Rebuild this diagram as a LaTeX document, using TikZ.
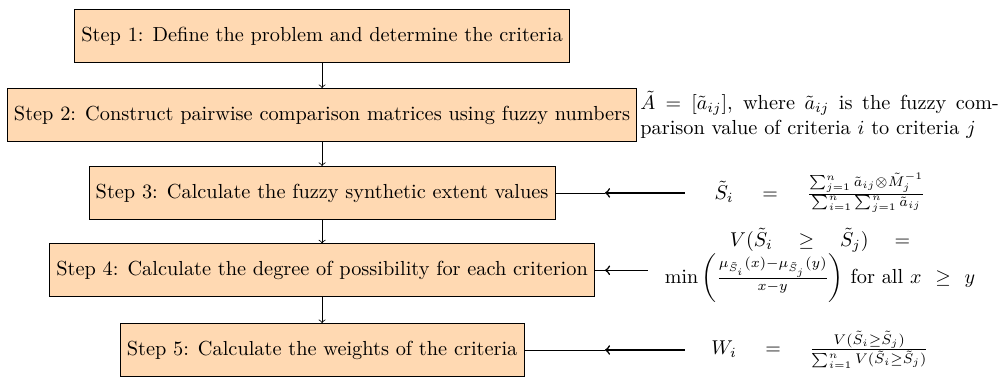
\documentclass[tikz,border=0pt]{standalone}
\usepackage{amsmath,amssymb}
\usetikzlibrary{positioning}
\begin{document}
\begin{tikzpicture}[scale=1,font=\fontsize{10.17}{12.2}\selectfont,
stepbox/.style={draw,rectangle,fill=orange!30,minimum height=0.93cm},
formula/.style={align=center,inner sep=3.33pt}]
\useasboundingbox (0,0) rectangle (17.59,-6.61);

\draw (5.66,-0.63) node[stepbox] (s1) {Step 1: Define the problem and determine the criteria};
\draw (5.66,-2.02) node[stepbox] (s2) {Step 2: Construct pairwise comparison matrices using fuzzy numbers};
\draw (5.66,-3.39) node[stepbox] (s3) {Step 3: Calculate the fuzzy synthetic extent values};
\draw (5.66,-4.75) node[stepbox] (s4) {Step 4: Calculate the degree of possibility for each criterion};
\draw (5.66,-6.15) node[stepbox] (s5) {Step 5: Calculate the weights of the criteria};
\draw[->] (s1) -- (s2);
\draw[->] (s2) -- (s3);
\draw[->] (s3) -- (s4);
\draw[->] (s4) -- (s5);

\node[right=-2pt of s2,text width=6.3cm,align=justify] (f2) {$\tilde{A}=[\tilde{a}_{ij}]$, where $\tilde{a}_{ij}$ is the fuzzy com\-parison value of criteria $i$ to criteria $j$};
\draw (14.41,-3.39) node[formula,text width=4.5cm] (f3) {$\tilde{S}_i \quad = \quad \frac{\sum_{j=1}^{n}\tilde{a}_{ij}\otimes\tilde{M}_j^{-1}}{\sum_{i=1}^{n}\sum_{j=1}^{n}\tilde{a}_{ij}}$};
\draw (14.41,-4.66) node[formula,text width=5.8cm] (f4) {$V(\tilde{S}_i \enspace\geq\enspace \tilde{S}_j) \enspace =$\\ $\min\left(\frac{\mu_{\tilde{S}_i}(x)-\mu_{\tilde{S}_j}(y)}{x-y}\right)$ for all $x \;\geq\; y$};
\draw (14.41,-6.15) node[formula,text width=4.5cm] (f5) {$W_i \quad = \quad \frac{V(\tilde{S}_i\geq\tilde{S}_j)}{\sum_{i=1}^{n}V(\tilde{S}_i\geq\tilde{S}_j)}$};

\coordinate (j3) at (10.63,-3.39);
\coordinate (j4) at (10.63,-4.75);
\coordinate (j5) at (10.63,-6.15);
\draw[->,thick] (f3.west) -- (j3);
\draw (j3) -- (s3.east);
\draw[->,thick] (f4.west |- j4) -- (j4);
\draw (j4) -- (s4.east);
\draw[->,thick] (f5.west) -- (j5);
\draw (j5) -- (s5.east);
\end{tikzpicture}
\end{document}
